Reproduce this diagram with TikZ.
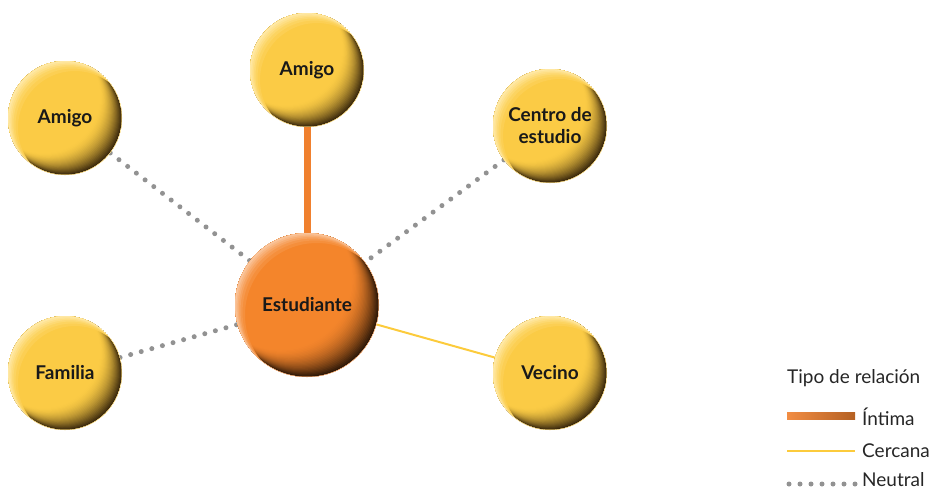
\documentclass[tikz,border=0pt]{standalone}
\usepackage{fontspec}
\setmainfont{Lato}
\usepackage{xcolor}
\usetikzlibrary{calc}

\definecolor{ylw}{HTML}{FBCB45}
\definecolor{ylwdark}{HTML}{3A280C}
\definecolor{ylwlight}{HTML}{FFE8A4}
\definecolor{org}{HTML}{F4852B}
\definecolor{orgdark}{HTML}{2E1808}
\definecolor{orglight}{HTML}{FAC49A}
\definecolor{lnorange}{HTML}{F0802E}
\definecolor{lnyellow}{HTML}{FCCB3C}
\definecolor{dotgray}{HTML}{929292}

\pgfdeclarelayer{bg}
\pgfdeclarelayer{balls}
\pgfsetlayers{bg,balls,main}

% #1 node, #2 radius, #3 base, #4 dark rim, #5 light rim
\newcommand{\drawball}[5]{%
  \begin{scope}
    \clip (#1.center) circle[radius=#2pt];
    \fill[#4] (#1.center) circle[radius=#2pt];
    \foreach \i in {1,...,24}{
      \pgfmathsetmacro{\p}{100*(1-(1-\i/24)^1.7)}
      \pgfmathsetmacro{\d}{-0.38*#2*\i/24}
      \fill[#3!\p!#4] ($(#1.center)+(\d,\d)$) circle[radius=#2pt];
    }
    \foreach \h/\q in {10/15,7.5/30,5.5/48,4/65,2.6/82,1.3/100}{
      \fill[even odd rule, #5!\q!#3] (#1.center) circle[radius=#2pt]
        ($(#1.center)+(\h,\h)$) circle[radius=#2pt];
    }
  \end{scope}}

\tikzset{
  friend/.style={circle, minimum size=114pt, inner sep=0pt,
    align=center, text=black!90, font=\bfseries\fontsize{19}{22}\selectfont},
  self/.style={friend, minimum size=144pt},
  intima/.style={lnorange, line width=7pt},
  cercana/.style={lnyellow, line width=2pt},
  neutral/.style={dotgray, line width=5pt, line cap=round, dash pattern=on 0pt off 11pt},
  legend/.style={anchor=west, inner sep=0pt, text=black!85, font=\fontsize{19}{22}\selectfont}
}

\begin{document}
\begin{tikzpicture}[x=1pt,y=-1pt]
	\useasboundingbox (0,0) rectangle (930,490);

	\node[self]   (est)    at (307,305) {Estudiante};
	\node[friend] (amigoa) at (65,118)  {Amigo};
	\node[friend] (amigob) at (307,70)  {Amigo};
	\node[friend] (centro) at (550,126) {Centro de\\estudio};
	\node[friend] (fam)    at (65,373)  {Familia};
	\node[friend] (vec)    at (550,373) {Vecino};

	\begin{pgfonlayer}{balls}
		\drawball{est}{72}{org}{orgdark}{orglight}
		\foreach \n in {amigoa,amigob,centro,fam,vec}{
			\drawball{\n}{57}{ylw}{ylwdark}{ylwlight}
		}
	\end{pgfonlayer}

	\begin{pgfonlayer}{bg}
		\draw[intima]  (amigob) -- (est);
		\draw[cercana] (vec) -- (est);
		\draw[neutral] (amigoa) -- (est);
		\draw[neutral] (centro) -- (est);
		\draw[neutral] (fam) -- (est);
	\end{pgfonlayer}

	% leyenda
	\node[legend] (tipo) at (787,378) {Tipo de relación};
	\shade[left color=lnorange!90!white, right color=lnorange!75!black] (787,412.5) rectangle (855,419.5);
	\node[legend] (lint) at (862,417) {Íntima};
	\draw[cercana] (787,451) -- (855,451);
	\node[legend] (lcer) at (862,451) {Cercana};
	\draw[neutral] (789,484) -- (858,484);
	\node[legend, anchor=base west] (lneu) at (862,486.5) {Neutral};
\end{tikzpicture}
\end{document}
